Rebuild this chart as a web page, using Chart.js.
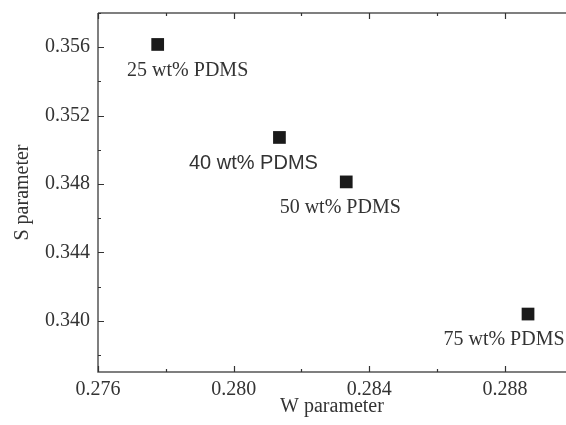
<!DOCTYPE html>
<html>
<head>
<meta charset="utf-8">
<script src="https://cdn.jsdelivr.net/npm/chart.js@4/dist/chart.umd.min.js"></script>
<style>
  html, body { margin: 0; padding: 0; background: #fff; }
  #wrap { width: 566px; height: 425px; position: relative; }
</style>
</head>
<body>
<div id="wrap"><canvas id="c"></canvas></div>
<script>
// data
const wValues = [0.27776, 0.28135, 0.28332, 0.28868];
const sValues = [0.35616, 0.35072, 0.34812, 0.34039];
const pointLabels = ['25 wt% PDMS', '40 wt% PDMS', '50 wt% PDMS', '75 wt% PDMS'];
const xTicks = [0.276, 0.280, 0.284, 0.288];
const yTicks = [0.340, 0.344, 0.348, 0.352, 0.356];

const SERIF = '"Liberation Serif", "DejaVu Serif", serif';
const SANS = '"Liberation Sans", Arial, sans-serif';
const INK = '#333';

// label placement relative to each marker
const labelOffsets = [[30, 26], [-26, 26], [-6, 26], [-24, 26]];
const labelFonts = [SERIF, SANS, SERIF, SERIF];

// frame with inward ticks (left, bottom, top)
const framePlugin = {
  id: 'frame',
  afterDraw(chart) {
    const { ctx, chartArea: a, scales: { x, y } } = chart;
    ctx.save();
    ctx.strokeStyle = '#555';
    ctx.lineWidth = 1.5;
    ctx.beginPath();
    ctx.moveTo(a.left, a.top); ctx.lineTo(a.right, a.top);
    ctx.moveTo(a.left, a.top); ctx.lineTo(a.left, a.bottom);
    ctx.lineTo(a.right, a.bottom);
    ctx.stroke();

    ctx.strokeStyle = '#333';
    ctx.lineWidth = 1.2;
    ctx.beginPath();
    for (let v = 0.276; v <= x.max + 1e-9; v += 0.002) {
      const px = Math.round(x.getPixelForValue(v)) + 0.5;
      const major = Math.abs((v - 0.276) / 0.004 - Math.round((v - 0.276) / 0.004)) < 1e-6;
      const len = major ? 6 : 3;
      ctx.moveTo(px, a.bottom); ctx.lineTo(px, a.bottom - len);
      ctx.moveTo(px, a.top); ctx.lineTo(px, a.top + len);
    }
    for (let v = 0.338; v <= y.max + 1e-9; v += 0.002) {
      const py = Math.round(y.getPixelForValue(v)) + 0.5;
      const major = Math.abs((v - 0.340) / 0.004 - Math.round((v - 0.340) / 0.004)) < 1e-6;
      const len = major ? 6 : 3;
      ctx.moveTo(a.left, py); ctx.lineTo(a.left + len, py);
    }
    ctx.stroke();

    // point labels
    const meta = chart.getDatasetMeta(0);
    ctx.fillStyle = INK;
    ctx.textAlign = 'center';
    ctx.textBaseline = 'middle';
    meta.data.forEach((pt, i) => {
      ctx.font = '20px ' + labelFonts[i];
      ctx.fillText(pointLabels[i], pt.x + labelOffsets[i][0], pt.y + labelOffsets[i][1]);
    });
    ctx.restore();
  }
};

new Chart(document.getElementById('c'), {
  type: 'scatter',
  data: {
    datasets: [{
      data: wValues.map((w, i) => ({ x: w, y: sValues[i] })),
      pointStyle: 'rect',
      pointRadius: 9,
      pointHoverRadius: 9,
      backgroundColor: '#1a1a1a',
      borderColor: '#1a1a1a',
      borderWidth: 0
    }]
  },
  options: {
    responsive: true,
    maintainAspectRatio: false,
    animation: false,
    layout: { autoPadding: false, padding: { top: 13, right: 0, left: 0, bottom: 0 } },
    plugins: { legend: { display: false }, tooltip: { enabled: false } },
    scales: {
      x: {
        type: 'linear',
        min: 0.276,
        max: 0.2898,
        afterFit: s => { s.height = 53; s.paddingLeft = 0; s.paddingRight = 0; },
        afterBuildTicks: s => { s.ticks = xTicks.map(v => ({ value: v })); },
        grid: { display: false, drawTicks: false },
        border: { display: false },
        ticks: {
          padding: 6,
          color: INK,
          font: { family: SERIF, size: 20 },
          callback: v => v.toFixed(3)
        },
        title: {
          display: true,
          text: 'W parameter',
          color: INK,
          font: { family: SERIF, size: 20 },
          padding: { top: 0, bottom: 6 }
        }
      },
      y: {
        type: 'linear',
        min: 0.337,
        max: 0.358,
        afterFit: s => { s.width = 98; s.paddingTop = 0; s.paddingBottom = 0; },
        afterBuildTicks: s => { s.ticks = yTicks.map(v => ({ value: v })); },
        grid: { display: false, drawTicks: false },
        border: { display: false },
        ticks: {
          padding: 8,
          color: INK,
          font: { family: SERIF, size: 20 },
          callback: v => v.toFixed(3)
        },
        title: {
          display: true,
          text: 'S parameter',
          color: INK,
          font: { family: SERIF, size: 20 },
          padding: { top: 11, bottom: 0 }
        }
      }
    }
  },
  plugins: [framePlugin]
});
</script>
</body>
</html>
